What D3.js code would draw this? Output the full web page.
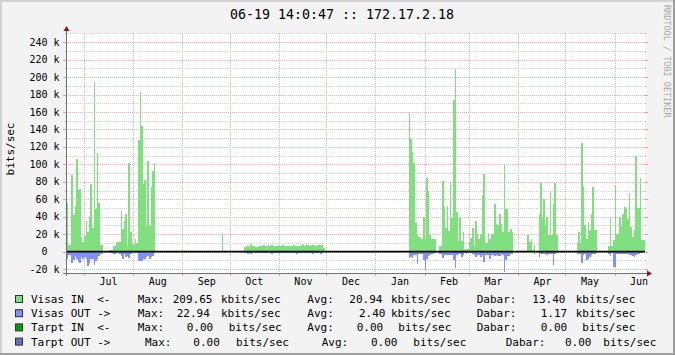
<!DOCTYPE html>
<html><head><meta charset="utf-8">
<script src="https://cdn.jsdelivr.net/npm/d3@7"></script>
<style>
html,body{margin:0;padding:0;background:#f3f3f3;}
svg{display:block;}
text{font-family:"DejaVu Sans Mono",monospace;}
</style></head><body>
<svg id="chart" width="675" height="355"></svg>
<script>
// ---------- data ----------
const title = "06-19 14:0:47 :: 172.17.2.18";
const yAxisTitle = "bits/sec";
const watermark = "RRDTOOL / TOBI OETIKER";
const periodStart = [2014, 5, 19, 14, 0, 47];
const periodEnd = [2015, 5, 19, 14, 0, 47];
const yTickValues = [-20, 0, 20, 40, 60, 80, 100, 120, 140, 160, 180, 200, 220, 240]; // kbit/s
const yTickLabels = ["-20 k", "0  ", "20 k", "40 k", "60 k", "80 k", "100 k", "120 k", "140 k", "160 k", "180 k", "200 k", "220 k", "240 k"];
const monthStarts = ["2014-07-01","2014-08-01","2014-09-01","2014-10-01","2014-11-01","2014-12-01","2015-01-01","2015-02-01","2015-03-01","2015-04-01","2015-05-01","2015-06-01"];
const monthLabels = ["Jul","Aug","Sep","Oct","Nov","Dec","Jan","Feb","Mar","Apr","May","Jun"];

// daily values, kbit/s (OUT drawn downward)
const inA = [55.8,55.8,7.7,7.7,88,42,52.7,105.8,71,72,15.4,11.5,18,35.4,23,39.6,78,27,194,48.5,113,56,7.7,7.7];
const outA = [-8.5,-8.5,-4,-4,-12.7,-10,-5,-8,-11.5,-13.5,-6,-9,-6,-9,-16,-12.7,-9,-8,-15.4,-11,-9,-5,-3,-3];
const inB = [1.5,1.5,6,6,10.7,10.7,10.7,46,25.6,35,43.5,6.5,101,23,9,8,14,10,128,183,144,78,82,29,104,29,74,92,101];
const outB = [-2,-2,-2.5,-2.5,-2,-2,-3,-4.6,-9,-3,-6,-4.5,-7,-2.5,-2,-2,-2,-2,-10.7,-10.7,-10.7,-8,-8,-6,-4.5,-8,-6,-4.5,-2];
const inSep = [21.8];
const outSep = [0];
const inC = [5.5,6.0,6.2,5.8,8.4,6.3,6.0,5.2,5.5,6.8,7.0,6.9,7.2,6.6,6.8,7.1,6.4,7.3,6.9,6.2,7.0,6.5,6.1,6.4,7.2,7.0,6.3,6.0,6.2,6.8,6.9,7.1,6.5,6.7,6.6,7.0,7.4,8.6,6.9,7.1,7.2,6.6,7.5,7.6,7.3,7.0,7.8,7.2,7.5,8.1,3.8];
const outC = [-1.8,-2.0,-2.2,-1.6,-2.4,-2.0,-1.4,-1.2,-1.5,-1.8,-2.0,-1.9,-2.1,-1.7,-1.5,-1.9,-2.0,-2.2,-1.6,-1.8,-1.5,-1.9,-2.3,-2.0,-1.7,-1.5,-1.8,-2.1,-1.9,-2.0,-1.6,-1.4,-1.8,-2.2,-2.0,-1.7,-1.9,-2.1,-1.6,-1.8,-2.0,-1.9,-1.7,-2.2,-2.0,-1.8,-1.9,-2.1,-2.3,-2.0,-1.0];
const inD1 = [159,129,114,101,33,18.7,16.8,16.8,14,40,14.5,84,69,19,14,14,14];
const outD1 = [-7.3,-6,-7,-4,-4,-14.5,-3,-3,-3,-10,-20.6,-8.4,-5.3,-3.5,-2.5,-2.3,-2];
const inD2 = [6.5,6.5,80.6,51,26.7,52,24,80,38.6,174,209.65,45,12,38.6,12,23,3.4,3.4,3,11,15.6,26.7,7,34.8,20.6,14,20.6,64.6,88.6,10,10,21.8,15,20.6,20.6,54,32,31,42.8,32,23,100,48.5,49,22,26,22];
const outD2 = [-2.3,-2.3,-7.3,-4.2,-3.4,-4.2,-3.4,-4.2,-4.2,-10,-18.3,-4.2,-2.3,-2.3,-6,-4.2,-1.5,-2.3,-1.5,-0.8,-1.5,-2.3,-3.4,-6,-3.4,-3.4,-6,-3.4,-11.8,-3.4,-4.2,-4.2,-8,-3.4,-3.4,-5.3,-4.2,-5.3,-5.3,-3,-4.2,-22.94,-10,-5.3,-5.3,-3,-3];
const inE = [19,10.7,14,1.5,7.3];
const outE = [-1,-1,-1,-0.5,-2.5];
const inF = [43.5,79,38,60,30.6,39.7,19,69,19,55,79,19];
const outF = [-6,-3,-3,-3,-3,-4,-3,-3,-3,-15.6,-3,-2];
const inG = [10,23,10,124,75,31,14,33.6,24.4,43.5,74,24.4,24.4];
const outG = [-2.3,-2.3,-3,-13,-4,-3,-10,-8,-6,-3.5,-3,-2.5,-1.5];
const inH = [6.5,39.7,6.5,13.8,76,20.6,20.6,39.7,29.4,42.8,51,48.5,37,67.6,28,16.4,25,110,50,50,84,13,13];
const outH = [-2.3,-5.3,-1.5,-17.6,-17.6,-2.3,-3,-2.3,-3,-2.3,-3,-2.3,-3,-4,-4,-5,-6,-4,-3,-2.3,-1.5,-1.5,-1];

const segmentStarts = ["2014-06-19","2014-07-17","2014-09-26","2014-10-10","2015-01-22","2015-02-10","2015-04-07","2015-04-14","2015-05-08","2015-05-28"];
const segmentsIn = [inA, inB, inSep, inC, inD1, inD2, inE, inF, inG, inH];
const segmentsOut = [outA, outB, outSep, outC, outD1, outD2, outE, outF, outG, outH];

// legend
const legendNames = ["Visas IN  <-", "Visas OUT ->", "Tarpt IN  <-", "Tarpt OUT ->"];
const legendColors = ["#80e080", "#8090ff", "#00a000", "#5a73c8"];
const legendMax = ["209.65", "22.94", "0.00", "0.00"];
const legendAvg = ["20.94", "2.40", "0.00", "0.00"];
const legendNow = ["13.40", "1.17", "0.00", "0.00"];
const legendUnits = ["kbits/sec", "kbits/sec", "bits/sec", "bits/sec"];

// ---------- drawing ----------
const W = 675, H = 355;
const svg = d3.select("#chart");
const parse = s => { const [a,b,c] = s.split("-").map(Number); return new Date(a, b-1, c); };
const addDays = (d, n) => new Date(d.getFullYear(), d.getMonth(), d.getDate() + n);

svg.append("rect").attr("width", W).attr("height", H).attr("fill", "#f3f3f3");
svg.append("rect").attr("x",0).attr("y",0).attr("width",W).attr("height",2).attr("fill","#d2d2d2");
svg.append("rect").attr("x",0).attr("y",0).attr("width",2).attr("height",H).attr("fill","#d2d2d2");
svg.append("rect").attr("x",0).attr("y",H-2).attr("width",W).attr("height",2).attr("fill","#9e9e9e");
svg.append("rect").attr("x",W-2).attr("y",0).attr("width",2).attr("height",H).attr("fill","#9e9e9e");

const X0 = 66, X1 = 645, YT = 33, YB = 273;
const x = d3.scaleTime().domain([new Date(...periodStart), new Date(...periodEnd)]).range([66, 644]);
const y = d3.scaleLinear().domain([-24.5, 250.5]).range([YB, YT]);

svg.append("rect").attr("x", X0).attr("y", YT).attr("width", X1 - X0).attr("height", YB - YT).attr("fill", "#ffffff");

const majorCol = "#eeb0b0", minorCol = "#cfcfcf";
const py = v => Math.round(y(v)) + 0.5;
// horizontal grid
const minorVals = d3.range(-20, 251, 10).filter(v => !yTickValues.includes(v));
minorVals.forEach(v => {
  svg.append("line").attr("x1", X0).attr("x2", X1).attr("y1", py(v)).attr("y2", py(v))
    .attr("stroke", minorCol).attr("stroke-dasharray", "1,1");
  svg.append("line").attr("x1", X0 - 1).attr("x2", X0).attr("y1", py(v)).attr("y2", py(v)).attr("stroke", "#b8b8b8");
  svg.append("line").attr("x1", X1).attr("x2", X1 + 1).attr("y1", py(v)).attr("y2", py(v)).attr("stroke", "#b8b8b8");
});
yTickValues.forEach(v => {
  svg.append("line").attr("x1", X0).attr("x2", X1).attr("y1", py(v)).attr("y2", py(v))
    .attr("stroke", majorCol).attr("stroke-dasharray", "1,1");
  svg.append("line").attr("x1", X0 - 3).attr("x2", X0).attr("y1", py(v)).attr("y2", py(v)).attr("stroke", "#e4a0a0");
  svg.append("line").attr("x1", X1).attr("x2", X1 + 3).attr("y1", py(v)).attr("y2", py(v)).attr("stroke", "#e4a0a0");
});
// vertical grid
monthStarts.forEach(s => {
  const xx = Math.round(x(parse(s))) + 0.5;
  svg.append("line").attr("x1", xx).attr("x2", xx).attr("y1", YT).attr("y2", YB)
    .attr("stroke", majorCol).attr("stroke-dasharray", "1,1");
  svg.append("line").attr("x1", xx).attr("x2", xx).attr("y1", YB).attr("y2", YB + 3).attr("stroke", "#e4a0a0");
});

// data areas
svg.append("clipPath").attr("id", "clip").append("rect").attr("x", X0 + 1).attr("y", YT).attr("width", X1 - X0 - 1).attr("height", YB - YT);
const gData = svg.append("g").attr("clip-path", "url(#clip)");
const area = d3.area().curve(d3.curveStepAfter).x(d => x(d.t)).y0(y(0)).y1(d => y(d.v));
function pts(start, vals) {
  const s = parse(start);
  const p = vals.map((v, i) => ({ t: addDays(s, i), v }));
  p.push({ t: addDays(s, vals.length), v: vals[vals.length - 1] });
  return p;
}
segmentStarts.forEach((s, i) => {
  gData.append("path").attr("d", area(pts(s, segmentsIn[i]))).attr("fill", legendColors[0]).attr("shape-rendering", "crispEdges");
  gData.append("path").attr("d", area(pts(s, segmentsOut[i]))).attr("fill", legendColors[1]).attr("shape-rendering", "crispEdges");
});

// zero rule
svg.append("line").attr("x1", X0).attr("x2", X1).attr("y1", y(0)).attr("y2", y(0))
  .attr("stroke", "#000").attr("stroke-width", 1.6);

// axes
svg.append("line").attr("x1", X0 + 0.5).attr("x2", X0 + 0.5).attr("y1", YB + 3).attr("y2", 29).attr("stroke", "#707070");
svg.append("line").attr("x1", X0 - 3).attr("x2", 649).attr("y1", YB + 0.5).attr("y2", YB + 0.5).attr("stroke", "#707070");
svg.append("path").attr("d", `M${X0 - 2.5},31 L${X0 + 3.5},31 L${X0 + 0.5},26 Z`).attr("fill", "#8b1a1a");
svg.append("path").attr("d", `M647,${YB - 2.5} L647,${YB + 3.5} L652,${YB + 0.5} Z`).attr("fill", "#8b1a1a");

// y tick labels
yTickValues.forEach((v, i) => {
  svg.append("text").attr("x", 59.5).attr("y", y(v) + 3.6).attr("text-anchor", "end")
    .attr("font-size", "10px").attr("fill", "#000").style("white-space", "pre").attr("xml:space", "preserve")
    .text(yTickLabels[i]);
});
// month labels
monthStarts.forEach((s, i) => {
  const mid = new Date(parse(s).getTime() + 15.5 * 86400000);
  svg.append("text").attr("x", x(mid)).attr("y", 285).attr("text-anchor", "middle")
    .attr("font-size", "10px").attr("fill", "#000").text(monthLabels[i]);
});

// titles
svg.append("text").attr("x", 342).attr("y", 19).attr("text-anchor", "middle").attr("font-size", "13.3px").attr("fill", "#000").text(title);
svg.append("text").attr("transform", "translate(14,149) rotate(-90)").attr("text-anchor", "middle").attr("font-size", "11px").attr("fill", "#000").text(yAxisTitle);
svg.append("text").attr("transform", "translate(664,5) rotate(90)").attr("text-anchor", "start").attr("font-size", "8.5px").attr("fill", "#a8a8a8").text(watermark);

// legend
const colX = [
  {max: 137.7, num: 172.7, unit: 221, avg: 307.3, anum: 349.3, aunit: 391, dab: 476.7, dnum: 532.3, dunit: 575.7},
  {max: 137.7, num: 176.7, unit: 221, avg: 307.3, anum: 359, aunit: 391, dab: 476.7, dnum: 540.7, dunit: 575.7},
  {max: 137.7, num: 186.7, unit: 228.7, avg: 307.3, anum: 356.7, aunit: 398.3, dab: 476.7, dnum: 540.7, dunit: 582.3},
  {max: 145, num: 193.3, unit: 236, avg: 321.7, anum: 371, aunit: 413.3, dab: 505.7, dnum: 565, dunit: 603.3}
];
legendNames.forEach((n, i) => {
  const by = 303 + i * 14.2;
  svg.append("rect").attr("x", 15.5).attr("y", by - 7.5).attr("width", 7).attr("height", 7)
    .attr("fill", legendColors[i]).attr("stroke", "#303030").attr("stroke-width", 1);
  const c = colX[i];
  const put = (t, xx) => svg.append("text").attr("x", xx).attr("y", by).attr("font-size", "11px").attr("fill", "#000")
    .style("white-space", "pre").attr("xml:space", "preserve").text(t);
  put(n, 31);
  put("Max:", c.max); put(legendMax[i], c.num); put(legendUnits[i], c.unit);
  put("Avg:", c.avg); put(legendAvg[i], c.anum); put(legendUnits[i], c.aunit);
  put("Dabar:", c.dab); put(legendNow[i], c.dnum); put(legendUnits[i], c.dunit);
});
</script>
</body></html>
